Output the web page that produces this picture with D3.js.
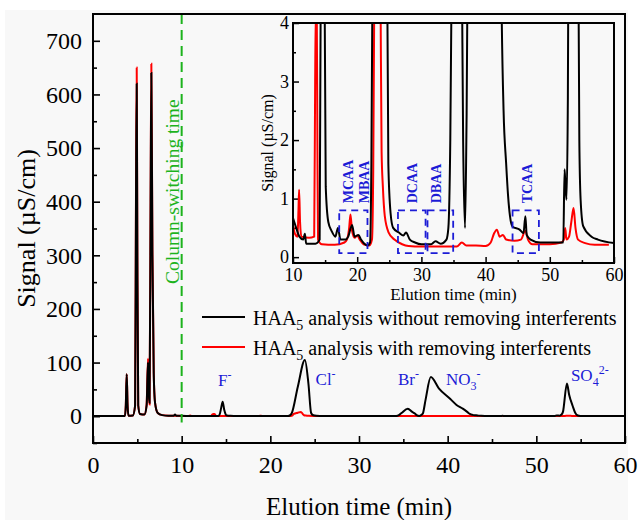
<!DOCTYPE html>
<html>
<head>
<meta charset="utf-8">
<script src="https://cdn.jsdelivr.net/npm/d3@7"></script>
<style>
  body { margin: 0; background: #ffffff; }
  text { font-family: 'Liberation Serif', 'Times New Roman', serif; }
</style>
</head>
<body>
<div id="container"></div>
<script>
// chromatogram traces, [elution time (min), signal (uS/cm)]
const blackTrace = [
  [0,0.2],[3.6,0.2],[3.7,20],[3.8,78],[3.9,20],[4.0,1],[4.5,1.5],[4.75,20],[4.85,400],[4.93,620],
  [5.0,300],[5.1,20],[5.3,4],[5.8,3],[6.05,20],[6.2,100],[6.3,40],[6.38,25],[6.5,400],[6.58,640],
  [6.7,300],[6.85,80],[7.0,25],[7.3,6],[7.8,2],[8.5,1],[9.1,1],[9.25,3],[9.4,1],[10,0.67],
  [10.5,0.5],[11.0,0.35],[11.6,0.3],[11.85,0.4],[12.05,0.23],[13.5,0.23],[14.15,0.3],[14.3,4],[14.45,15],[14.62,27],
  [14.8,12],[14.95,4],[15.1,1.2],[15.5,0.6],[16.0,0.45],[16.6,0.35],[17.0,0.5],[17.4,0.3],[18.2,0.3],[18.6,0.35],
  [19.2,0.55],[19.6,0.35],[20.2,0.38],[20.6,0.3],[21.6,0.2],[22.0,0.25],[22.2,1.5],[22.4,5],[23.1,55],[23.9,105],
  [24.3,60],[24.6,6],[24.85,1.6],[25.2,0.75],[25.6,0.5],[26.5,0.42],[27.2,0.37],[27.6,0.42],[28.2,0.3],[29.0,0.25],
  [30.0,0.22],[31.5,0.22],[32.2,0.27],[33.0,0.23],[33.9,0.3],[34.2,0.5],[34.5,2],[34.8,6],[35.5,14],[36.0,8],
  [36.3,5],[36.5,2],[36.8,0.5],[37.0,2],[37.2,5],[37.5,30],[38.1,73],[39.0,52],[40.3,32],[41.0,21],
  [41.7,14],[42.2,8],[42.5,4.2],[42.8,2.5],[43.2,1.6],[43.5,1.05],[43.8,0.7],[44.2,0.52],[45.3,0.47],[45.9,0.41],
  [46.2,0.7],[46.4,0.38],[47.0,0.3],[48.5,0.25],[52.1,0.25],[52.3,1.5],[52.45,1.2],[52.6,0.98],[52.8,2.5],[53.0,8],
  [53.45,61],[53.7,40],[54.1,19],[54.4,6],[54.6,2],[54.8,0.98],[55.2,0.53],[56.5,0.35],[57.5,0.3],[60,0.24]
]
const redTrace = [
  [0,0.2],[3.6,0.2],[3.7,20],[3.8,78],[3.9,20],[4.0,1],[4.5,1.5],[4.75,20],[4.85,420],[4.93,650],
  [5.0,320],[5.1,20],[5.3,4],[5.8,3],[6.05,22],[6.2,107],[6.3,40],[6.38,22],[6.5,420],[6.58,657],
  [6.7,310],[6.85,80],[7.0,25],[7.3,6],[7.8,2],[8.5,1],[10,0.55],[10.3,0.4],[10.7,0.35],[10.85,0.8],
  [10.95,1.15],[11.1,0.6],[11.3,0.35],[12.5,0.33],[13.3,0.35],[13.45,3],[13.55,4.2],[13.7,4.2],[13.8,2],[13.9,0.3],
  [14.5,0.22],[16.5,0.21],[18.0,0.25],[18.4,0.3],[18.75,0.5],[18.95,0.73],[19.2,0.45],[19.6,0.33],[20.0,0.37],[20.4,0.3],
  [21.0,0.22],[21.9,0.2],[22.3,0.3],[22.5,1.5],[22.65,4.2],[23.1,6.5],[23.45,8],[23.65,4.2],[23.8,1.8],[24.0,1.2],
  [24.3,0.7],[24.9,0.42],[25.8,0.3],[27.0,0.22],[28.0,0.19],[30.0,0.18],[35.5,0.18],[36.3,0.25],[37.0,0.2],[38.5,0.2],
  [40.0,0.19],[40.8,0.25],[41.3,0.4],[41.75,0.47],[42.2,0.35],[42.7,0.38],[43.2,0.3],[44.5,0.28],[45.5,0.3],[46.2,0.45],
  [46.6,0.3],[47.3,0.22],[50.0,0.22],[51.8,0.25],[52.2,0.3],[52.4,0.5],[52.6,0.3],[53.0,0.35],[53.35,0.6],[53.7,0.84],
  [54.0,0.5],[54.4,0.3],[55.5,0.24],[57.0,0.21],[59.2,0.21]
]

const legendNames = [' analysis without removing interferents', ' analysis with removing interferents']
const seriesColors = ['#000000', '#ff0000']

const mainXTicks = [0, 10, 20, 30, 40, 50, 60]
const mainYTicks = [0, 100, 200, 300, 400, 500, 600, 700]
const insetXTicks = [10, 20, 30, 40, 50, 60]
const insetYTicks = [0, 1, 2, 3, 4]

const switchTime = 10

// ion peak labels (main chart)
const ionBase = ['F', 'Cl', 'Br', 'NO', 'SO']
const ionSub = ['', '', '', '3', '4']
const ionSup = ['-', '-', '-', '-', '2-']
const ionTime = [14.1, 25.1, 34.4, 39.8, 53.9]
const ionSignal = [57, 59, 59, 59, 65]

// HAA regions in the inset
const haaNames = ['MCAA', 'MBAA', 'DCAA', 'DBAA', 'TCAA']
const haaLabelTime = [18.5, 21.0, 28.5, 32.2, 46.5]
const boxStart = [17.2, 26.35, 30.95, 44.2]
const boxEnd = [21.6, 30.65, 34.95, 48.3]

const width = 639
const height = 520
const serif = "'Liberation Serif', 'Times New Roman', serif"

const svg = d3.select('#container')
  .append('svg')
  .attr('width', width)
  .attr('height', height)
  .style('font-family', serif)

svg.append('rect')
  .attr('x', 5).attr('y', 10)
  .attr('width', 623).attr('height', 510)
  .attr('fill', '#f8f8f8')

// main chart
const x = d3.scaleLinear().domain([0, 60]).range([93, 625])
const y = d3.scaleLinear().domain([-50, 750]).range([443, 14])

const main = svg.append('g')

main.append('g')
  .attr('transform', `translate(0, ${y(-50)})`)
  .call(d3.axisBottom(x).tickValues(d3.range(5, 60, 10)).tickFormat('').tickSize(-4))
main.append('g')
  .attr('transform', `translate(${x(0)}, 0)`)
  .call(d3.axisLeft(y).tickValues(d3.range(-50, 750, 100)).tickFormat('').tickSize(-4))

main.append('g')
  .attr('transform', `translate(0, ${y(-50)})`)
  .call(d3.axisBottom(x).tickValues(mainXTicks).tickFormat(d3.format('d')).tickSize(-7).tickPadding(13))
main.append('g')
  .attr('transform', `translate(${x(0)}, 0)`)
  .call(d3.axisLeft(y).tickValues(mainYTicks).tickFormat(d3.format('d')).tickSize(-7).tickPadding(11))

main.selectAll('.domain').remove()
main.selectAll('g').attr('font-family', serif)
main.selectAll('.tick line').attr('stroke', '#000').attr('stroke-width', 1.6)
main.selectAll('.tick text').attr('font-size', 24).attr('fill', '#000')
  .style('font-family', serif)

const line = d3.line()
  .x(d => x(d[0]))
  .y(d => y(d[1]))
  .curve(d3.curveMonotoneX)

main.append('path').datum(redTrace)
  .attr('d', line).attr('fill', 'none')
  .attr('stroke', seriesColors[1]).attr('stroke-width', 2)
main.append('path').datum(blackTrace)
  .attr('d', line).attr('fill', 'none')
  .attr('stroke', seriesColors[0]).attr('stroke-width', 2)

// column switching marker
main.append('line')
  .attr('x1', x(switchTime)).attr('x2', x(switchTime))
  .attr('y1', y(750)).attr('y2', y(-12))
  .attr('stroke', '#1db31d').attr('stroke-width', 2)
  .attr('stroke-dasharray', '10,6')
main.append('text')
  .attr('transform', `translate(${x(switchTime) - 3}, 284) rotate(-90)`)
  .attr('font-size', 19.5).attr('fill', '#1db31d')
  .text('Column-switching time')

// ion labels
ionBase.forEach((b, i) => {
  const t = main.append('text')
    .attr('x', x(ionTime[i])).attr('y', y(ionSignal[i]))
    .attr('font-size', 17).attr('fill', '#1c1cd6')
  t.append('tspan').text(b)
  if (ionSub[i]) t.append('tspan').attr('font-size', 12).attr('dy', 5).text(ionSub[i])
  t.append('tspan').attr('font-size', 12).attr('dy', ionSub[i] ? -12 : -7).text(ionSup[i])
})

// legend
seriesColors.forEach((c, i) => {
  const ly = 317 + i * 30
  main.append('line')
    .attr('x1', 202).attr('x2', 245).attr('y1', ly).attr('y2', ly)
    .attr('stroke', c).attr('stroke-width', 2)
  const t = main.append('text')
    .attr('x', 253).attr('y', ly + 8)
    .attr('font-size', 20).attr('fill', '#000')
  t.append('tspan').text('HAA')
  t.append('tspan').attr('font-size', 14).attr('dy', 5).text('5')
  t.append('tspan').attr('dy', -5).text(legendNames[i])
})

// frame
main.append('rect')
  .attr('x', x(0)).attr('y', y(750))
  .attr('width', x(60) - x(0)).attr('height', y(-50) - y(750))
  .attr('fill', 'none').attr('stroke', '#000').attr('stroke-width', 2)

svg.append('text')
  .attr('x', (x(0) + x(60)) / 2).attr('y', 515)
  .attr('text-anchor', 'middle').attr('font-size', 25)
  .text('Elution time (min)')
svg.append('text')
  .attr('transform', `translate(35, ${(y(-50) + y(750)) / 2}) rotate(-90)`)
  .attr('text-anchor', 'middle').attr('font-size', 26)
  .text('Signal (µS/cm)')

// inset
const ix = d3.scaleLinear().domain([10, 60]).range([293, 614])
const iy = d3.scaleLinear().domain([-0.1, 4]).range([263, 23])

const inset = svg.append('g')

inset.append('rect')
  .attr('x', ix(10)).attr('y', iy(4))
  .attr('width', ix(60) - ix(10)).attr('height', iy(-0.1) - iy(4))
  .attr('fill', '#f8f8f8')

inset.append('clipPath').attr('id', 'inset-clip')
  .append('rect')
  .attr('x', ix(10)).attr('y', iy(4))
  .attr('width', ix(60) - ix(10)).attr('height', iy(-0.1) - iy(4))

inset.append('g')
  .attr('transform', `translate(0, ${iy(-0.1)})`)
  .call(d3.axisBottom(ix).tickValues(d3.range(15, 60, 10)).tickFormat('').tickSize(-3))
inset.append('g')
  .attr('transform', `translate(${ix(10)}, 0)`)
  .call(d3.axisLeft(iy).tickValues(d3.range(0.5, 4, 1)).tickFormat('').tickSize(-3))
inset.append('g')
  .attr('transform', `translate(0, ${iy(-0.1)})`)
  .call(d3.axisBottom(ix).tickValues(insetXTicks).tickFormat(d3.format('d')).tickSize(-6).tickPadding(5))
inset.append('g')
  .attr('transform', `translate(${ix(10)}, 0)`)
  .call(d3.axisLeft(iy).tickValues(insetYTicks).tickFormat(d3.format('d')).tickSize(-6).tickPadding(4))

inset.selectAll('.domain').remove()
inset.selectAll('g').attr('font-family', serif)
inset.selectAll('.tick line').attr('stroke', '#000').attr('stroke-width', 1.5)
inset.selectAll('.tick text').attr('font-size', 18).attr('fill', '#000')
  .style('font-family', serif)

const iline = d3.line()
  .x(d => ix(d[0]))
  .y(d => iy(d[1]))
  .curve(d3.curveMonotoneX)

const traces = inset.append('g').attr('clip-path', 'url(#inset-clip)')
traces.append('path').datum(redTrace.filter(d => d[0] >= 9.5))
  .attr('d', iline).attr('fill', 'none')
  .attr('stroke', seriesColors[1]).attr('stroke-width', 2)
traces.append('path').datum(blackTrace.filter(d => d[0] >= 9.5))
  .attr('d', iline).attr('fill', 'none')
  .attr('stroke', seriesColors[0]).attr('stroke-width', 2)

// dashed HAA boxes
boxStart.forEach((s, i) => {
  inset.append('rect')
    .attr('x', ix(s)).attr('y', iy(0.8))
    .attr('width', ix(boxEnd[i]) - ix(s)).attr('height', iy(0.07) - iy(0.8))
    .attr('fill', 'none').attr('stroke', '#1c1cd6').attr('stroke-width', 1.8)
    .attr('stroke-dasharray', '7,5')
})
haaNames.forEach((n, i) => {
  inset.append('text')
    .attr('transform', `translate(${ix(haaLabelTime[i]) + 5}, ${iy(0.92)}) rotate(-90)`)
    .attr('font-size', 14).attr('font-weight', 'bold').attr('fill', '#1c1cd6')
    .text(n)
})

inset.append('rect')
  .attr('x', ix(10)).attr('y', iy(4))
  .attr('width', ix(60) - ix(10)).attr('height', iy(-0.1) - iy(4))
  .attr('fill', 'none').attr('stroke', '#000').attr('stroke-width', 2)

inset.append('text')
  .attr('x', (ix(10) + ix(60)) / 2).attr('y', 300)
  .attr('text-anchor', 'middle').attr('font-size', 17)
  .text('Elution time (min)')
inset.append('text')
  .attr('transform', `translate(273, ${(iy(4) + iy(-0.1)) / 2}) rotate(-90)`)
  .attr('text-anchor', 'middle').attr('font-size', 16)
  .text('Signal (µS/cm)')
</script>
</body>
</html>
